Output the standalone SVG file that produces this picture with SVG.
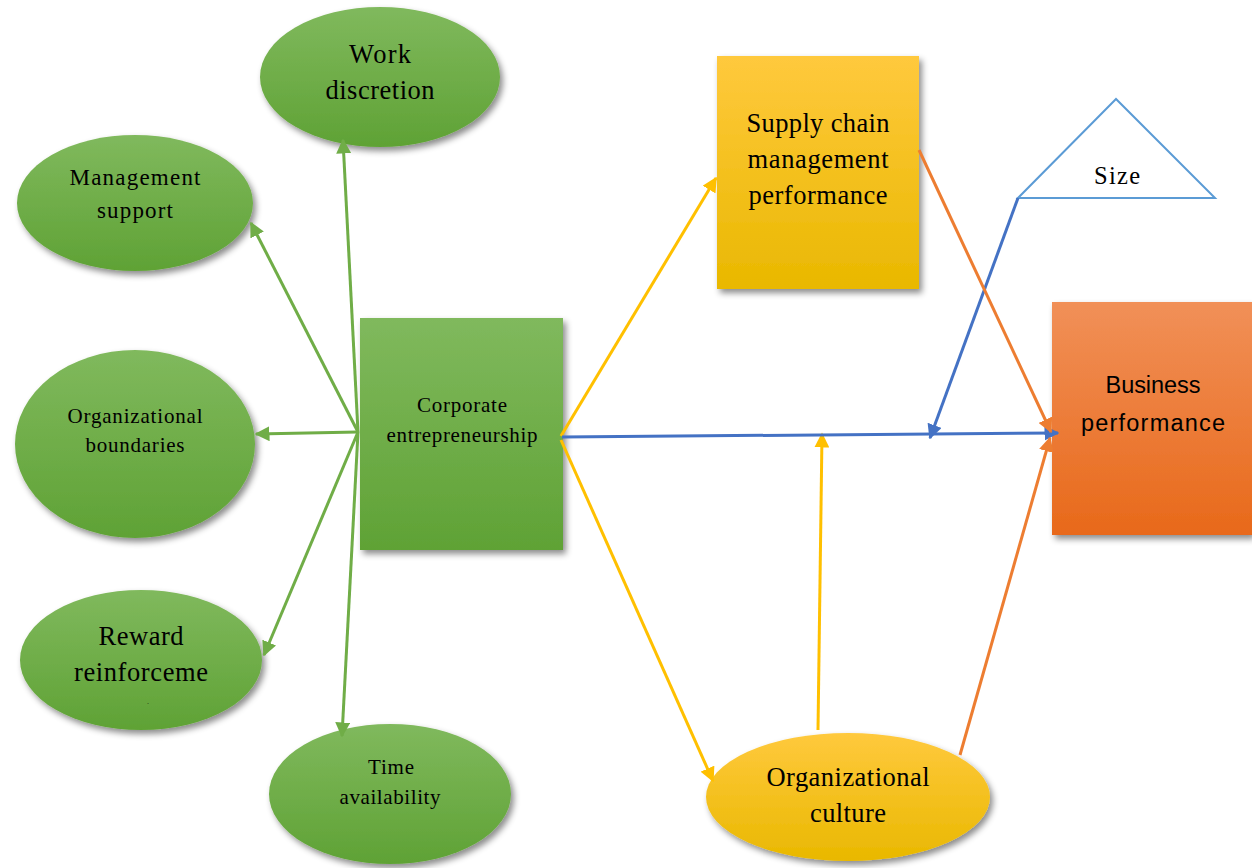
<svg xmlns="http://www.w3.org/2000/svg" width="1252" height="868" viewBox="0 0 1252 868">
<defs>
<linearGradient id="gG" x1="0" y1="0" x2="0" y2="1"><stop offset="0" stop-color="#80b95d"/><stop offset="1" stop-color="#5fa235"/></linearGradient>
<linearGradient id="gY" x1="0" y1="0" x2="0" y2="1"><stop offset="0" stop-color="#ffc93d"/><stop offset="1" stop-color="#e9b800"/></linearGradient>
<linearGradient id="gO" x1="0" y1="0" x2="0" y2="1"><stop offset="0" stop-color="#f19058"/><stop offset="1" stop-color="#e8691a"/></linearGradient>
<filter id="sh" x="-20%" y="-20%" width="140%" height="150%"><feDropShadow dx="3" dy="4" stdDeviation="3" flood-color="#000" flood-opacity="0.45"/></filter>
<marker id="aG" viewBox="0 0 10 10" refX="9" refY="5" markerWidth="5" markerHeight="5" orient="auto" markerUnits="strokeWidth"><path d="M0,0 L10,5 L0,10 z" fill="#70ad47"/></marker>
<marker id="aY" viewBox="0 0 10 10" refX="9" refY="5" markerWidth="5" markerHeight="5" orient="auto" markerUnits="strokeWidth"><path d="M0,0 L10,5 L0,10 z" fill="#ffc000"/></marker>
<marker id="aB" viewBox="0 0 10 10" refX="9" refY="5" markerWidth="5" markerHeight="5" orient="auto" markerUnits="strokeWidth"><path d="M0,0 L10,5 L0,10 z" fill="#4472c4"/></marker>
<marker id="aO" viewBox="0 0 10 10" refX="9" refY="5" markerWidth="5" markerHeight="5" orient="auto" markerUnits="strokeWidth"><path d="M0,0 L10,5 L0,10 z" fill="#ed7d31"/></marker>
</defs>
<style>
.s{font-family:"Liberation Serif","Times New Roman",serif;fill:#000;text-anchor:middle}
.ss{font-family:"Liberation Sans",Arial,sans-serif;fill:#000;text-anchor:middle}
.g{stroke:#70ad47;stroke-width:3;fill:none;marker-end:url(#aG)}
.y{stroke:#ffc000;stroke-width:3;fill:none;marker-end:url(#aY)}
.b{stroke:#4472c4;stroke-width:3;fill:none;marker-end:url(#aB)}
.o{stroke:#ed7d31;stroke-width:3;fill:none;marker-end:url(#aO)}
</style>
<rect width="1252" height="868" fill="#fff"/>
<g id="work-discretion"><ellipse cx="380" cy="77" rx="120" ry="70" fill="url(#gG)" filter="url(#sh)"/><text class="s" x="380" y="63" font-size="26.5" textLength="62" lengthAdjust="spacing">Work</text><text class="s" x="380" y="99" font-size="26.5" textLength="109" lengthAdjust="spacing">discretion</text></g>
<g id="management-support"><ellipse cx="135" cy="203" rx="118" ry="68" fill="url(#gG)" filter="url(#sh)"/><text class="s" x="135" y="185" font-size="23" textLength="131" lengthAdjust="spacing">Management</text><text class="s" x="135" y="218" font-size="23" textLength="76" lengthAdjust="spacing">support</text></g>
<g id="organizational-boundaries"><ellipse cx="135" cy="444" rx="120" ry="94" fill="url(#gG)" filter="url(#sh)"/><text class="s" x="135" y="423" font-size="21" textLength="135" lengthAdjust="spacing">Organizational</text><text class="s" x="135" y="452" font-size="21" textLength="99" lengthAdjust="spacing">boundaries</text></g>
<g id="reward-reinforcement"><ellipse cx="141" cy="660" rx="121" ry="70" fill="url(#gG)" filter="url(#sh)"/><text class="s" x="141" y="645" font-size="26.5" textLength="85" lengthAdjust="spacing">Reward</text><text class="s" x="141" y="681" font-size="26.5" textLength="134" lengthAdjust="spacing">reinforceme</text><text class="s" x="148" y="704" font-size="6">.</text></g>
<g id="time-availability"><ellipse cx="390" cy="794" rx="121" ry="70" fill="url(#gG)" filter="url(#sh)"/><text class="s" x="391" y="774" font-size="21" textLength="46" lengthAdjust="spacing">Time</text><text class="s" x="390" y="804" font-size="21" textLength="101" lengthAdjust="spacing">availability</text></g>
<g id="corporate-entrepreneurship"><rect x="360" y="318" width="203" height="232" fill="url(#gG)" filter="url(#sh)"/><text class="s" x="462" y="412" font-size="21" textLength="90" lengthAdjust="spacing">Corporate</text><text class="s" x="462" y="442" font-size="21" textLength="151" lengthAdjust="spacing">entrepreneurship</text></g>
<g id="supply-chain"><rect x="717" y="56" width="202" height="233" fill="url(#gY)" filter="url(#sh)"/><text class="s" x="818" y="132" font-size="26.5" textLength="143" lengthAdjust="spacing">Supply chain</text><text class="s" x="818" y="168" font-size="26.5" textLength="141" lengthAdjust="spacing">management</text><text class="s" x="818" y="204" font-size="26.5" textLength="139" lengthAdjust="spacing">performance</text></g>
<g id="size"><polygon points="1116,99 1018,198 1215,198" fill="#fff" stroke="#5b9bd5" stroke-width="2"/><text class="s" x="1117" y="184" font-size="24.5" textLength="46" lengthAdjust="spacing">Size</text></g>
<g id="business-performance"><rect x="1052" y="302" width="200" height="233" fill="url(#gO)" filter="url(#sh)"/><text class="ss" x="1153" y="393" font-size="23.5" textLength="95" lengthAdjust="spacing">Business</text><text class="ss" x="1153" y="431" font-size="23.5" textLength="144" lengthAdjust="spacing">performance</text></g>
<g id="organizational-culture"><ellipse cx="848" cy="797" rx="142" ry="64" fill="url(#gY)" filter="url(#sh)"/><text class="s" x="848" y="786" font-size="26.5" textLength="163" lengthAdjust="spacing">Organizational</text><text class="s" x="848" y="822" font-size="26.5" textLength="76" lengthAdjust="spacing">culture</text></g>
<g id="connectors">
<line class="g" x1="358" y1="432" x2="343" y2="140"/>
<line class="g" x1="358" y1="432" x2="251" y2="223"/>
<line class="g" x1="358" y1="432" x2="256" y2="434"/>
<line class="g" x1="358" y1="432" x2="264" y2="655"/>
<line class="g" x1="358" y1="432" x2="342" y2="736"/>
<line class="y" x1="561" y1="436" x2="716" y2="178"/>
<line class="y" x1="561" y1="440" x2="713" y2="781"/>
<line class="y" x1="818" y1="730" x2="822" y2="434"/>
<line class="b" x1="562" y1="437" x2="1058" y2="433"/>
<line class="b" x1="1018" y1="198" x2="930" y2="438"/>
<line class="o" x1="919" y1="150" x2="1051" y2="432"/>
<line class="o" x1="960" y1="755" x2="1050" y2="438"/>
</g>
</svg>
